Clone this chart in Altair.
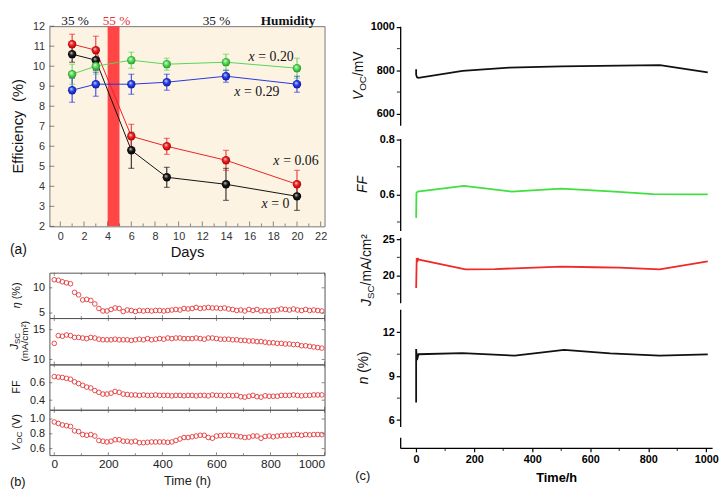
import altair as alt
import pandas as pd

# ---------------- panel (a): efficiency vs. days ----------------
days = [1, 3, 6, 9, 14, 20]
series_names = ["x = 0", "x = 0.06", "x = 0.20", "x = 0.29"]
eff_x0 = [10.6, 10.3, 5.8, 4.45, 4.1, 3.5]
eff_x006 = [11.1, 10.8, 6.5, 6.0, 5.3, 4.1]
eff_x020 = [9.6, 10.0, 10.3, 10.1, 10.2, 9.9]
eff_x029 = [8.8, 9.1, 9.1, 9.2, 9.5, 9.1]
err_x0 = [0.4, 0.5, 0.9, 0.5, 0.8, 0.7]
err_x006 = [0.5, 0.7, 0.6, 0.4, 0.5, 0.7]
err_x020 = [0.5, 0.4, 0.4, 0.3, 0.4, 0.5]
err_x029 = [0.6, 0.6, 0.5, 0.4, 0.3, 0.4]
humid_band_start = [4]
humid_band_end = [5]
humid_text = ["35 %", "55 %", "35 %", "Humidity"]
humid_day = [1.25, 4.75, 13.2, 19.25]
curve_value = ["= 0", "= 0.06", "= 0.20", "= 0.29"]
curve_day = [17.0, 18.0, 15.9, 14.7]
curve_eff = [3.13, 5.27, 10.44, 8.73]
day_ticks = [0, 2, 4, 6, 8, 10, 12, 14, 16, 18, 20, 22]
day_minor = [1, 3, 5, 7, 9, 11, 13, 15, 17, 19, 21]
eff_ticks = [2, 3, 4, 5, 6, 7, 8, 9, 10, 11, 12]

# ---------------- panel (b): parameters vs. time ----------------
time_b = [0, 15, 30, 45, 60, 75, 90, 105, 120, 135,
          150, 165, 180, 195, 210, 225, 240, 255, 270, 285,
          300, 315, 330, 345, 360, 375, 390, 405, 420, 435,
          450, 465, 480, 495, 510, 525, 540, 555, 570, 585,
          600, 615, 630, 645, 660, 675, 690, 705, 720, 735,
          750, 765, 780, 795, 810, 825, 840, 855, 870, 885,
          900, 915, 930, 945, 960, 975, 990]
eta_b = [11.6, 11.5, 11.2, 11.0, 10.8, 9.1, 8.6, 7.6, 7.7, 7.5,
         6.8, 5.9, 5.4, 5.4, 5.7, 6.0, 5.9, 5.3, 5.6, 5.5,
         5.3, 5.5, 5.4, 5.5, 5.4, 5.5, 5.5, 5.4, 5.5, 5.6,
         5.7, 5.6, 5.9, 5.8, 5.9, 6.1, 5.9, 6.0, 6.1, 6.0,
         6.0, 5.9, 6.0, 5.8, 5.7, 5.5, 5.6, 5.4, 5.7, 5.5,
         5.7, 5.4, 5.5, 5.4, 5.5, 5.6, 5.8, 5.7, 5.6, 5.8,
         5.6, 5.5, 5.7, 5.5, 5.6, 5.5, 5.4]
jsc_b = [12.7, 14.0, 13.9, 14.1, 14.0, 13.7, 13.7, 13.6, 13.5, 13.7,
         13.6, 13.4, 13.3, 13.3, 13.3, 13.4, 13.3, 13.3, 13.3, 13.2,
         13.3, 13.4, 13.3, 13.5, 13.3, 13.4, 13.5, 13.4, 13.6, 13.5,
         13.6, 13.6, 13.5, 13.5, 13.5, 13.6, 13.5, 13.4, 13.6, 13.6,
         13.5, 13.4, 13.4, 13.4, 13.3, 13.3, 13.2, 13.2, 13.1, 13.1,
         13.0, 13.0, 12.9, 12.8, 12.8, 12.7, 12.7, 12.6, 12.6, 12.5,
         12.5, 12.3, 12.3, 12.2, 12.1, 12.0, 11.9]
ff_b = [0.67, 0.665, 0.66, 0.65, 0.64, 0.61, 0.59, 0.57, 0.55, 0.54,
        0.51, 0.49, 0.47, 0.47, 0.48, 0.50, 0.49, 0.47, 0.465, 0.46,
        0.46, 0.455, 0.46, 0.455, 0.455, 0.46, 0.455, 0.455, 0.455, 0.45,
        0.455, 0.455, 0.45, 0.455, 0.455, 0.45, 0.455, 0.455, 0.45, 0.46,
        0.455, 0.455, 0.45, 0.455, 0.45, 0.455, 0.44, 0.435, 0.445, 0.455,
        0.44, 0.435, 0.45, 0.445, 0.445, 0.445, 0.455, 0.455, 0.455, 0.46,
        0.455, 0.45, 0.455, 0.455, 0.46, 0.46, 0.46]
voc_b = [0.96, 0.94, 0.92, 0.91, 0.90, 0.84, 0.83, 0.79, 0.78, 0.79,
         0.77, 0.71, 0.70, 0.69, 0.70, 0.72, 0.72, 0.70, 0.70, 0.69,
         0.70, 0.68, 0.68, 0.685, 0.69, 0.69, 0.69, 0.69, 0.685, 0.69,
         0.71, 0.73, 0.75, 0.75, 0.76, 0.77, 0.78, 0.78, 0.75, 0.74,
         0.77, 0.775, 0.78, 0.78, 0.775, 0.77, 0.76, 0.75, 0.755, 0.77,
         0.77, 0.74, 0.765, 0.77, 0.76, 0.77, 0.775, 0.78, 0.78, 0.785,
         0.79, 0.78, 0.79, 0.785, 0.79, 0.79, 0.79]
time_b_ticks = [0, 200, 400, 600, 800, 1000]
time_b_minor = [100, 300, 500, 700, 900]

# ---------------- panel (c): long-term stability ----------------
voc_c_t = [0, 0, 3, 8, 160, 320, 500, 700, 840, 1005]
voc_c_v = [805, 780, 768, 765, 797, 812, 818, 822, 824, 791]
ff_c_t = [0, 1, 5, 165, 330, 500, 670, 816, 1005]
ff_c_v = [0.515, 0.605, 0.61, 0.631, 0.61, 0.621, 0.611, 0.601, 0.60]
jsc_c_t = [0, 2, 4, 7, 10, 170, 272, 500, 612, 700, 839, 1005]
jsc_c_v = [18.3, 22.4, 21.9, 22.3, 22.2, 20.85, 20.9, 21.25, 21.15, 21.1, 20.85, 21.95]
eta_c_t = [0, 0, 3, 8, 159, 340, 510, 669, 839, 1005]
eta_c_v = [7.2, 10.85, 10.1, 10.5, 10.58, 10.4, 10.8, 10.56, 10.4, 10.49]
voc_c_ticks = [600, 800, 1000]
voc_c_minor = [700, 900]
ff_c_ticks = [0.6, 0.8]
ff_c_minor = [0.5, 0.7]
jsc_c_ticks = [20, 25]
jsc_c_minor = [17.5, 22.5]
eta_c_ticks = [6, 9, 12]
eta_c_minor = [7.5, 10.5]
time_c_ticks = [0, 200, 400, 600, 800, 1000]
time_c_minor = [100, 300, 500, 700, 900]

SANS = "Liberation Sans"
SERIF = "Liberation Serif"
ONE = pd.DataFrame({"k": [0]})

AW = {'V': .667, 'O': .778, 'C': .722, 'S': .667, 'J': .5, 'F': .611, '/': .278,
      'm': .833, 'A': .667, 'c': .5, '\u00b2': .333, '(': .333, ')': .333, '%': .889,
      ' ': .278, 'n': .556, '\u03b7': .556, 'E': .667, 'f': .278, 'i': .222, 'e': .556,
      'y': .5}


def tw(s, size):
    return sum(AW.get(ch, 0.556) for ch in s) * size


def vlabel(segments, x, yc, color="#111"):
    """Rotated (reading upward) composite label made of styled segments."""
    total = sum(tw(s[0], s[1]) for s in segments)
    y = yc + total / 2
    out = []
    for text, size, style, shift in segments:
        if text.strip():
            out.append(alt.Chart(ONE).mark_text(
                text=text, font=SANS, fontSize=size, fontStyle=style, angle=270,
                align="left", baseline="alphabetic", color=color
            ).encode(x=alt.value(x + shift), y=alt.value(y)))
        y -= tw(text, size)
    return out


def inner_xticks(values, scale, axis, ypix, size, color):
    return alt.Chart(pd.DataFrame({"m": values})).mark_tick(
        orient="vertical", size=size, thickness=1, color=color).encode(
        x=alt.X("m:Q", scale=scale, axis=axis), y=alt.value(ypix))


def inner_yticks(values, scale, axis, xpix, size, color):
    return alt.Chart(pd.DataFrame({"m": values})).mark_tick(
        orient="horizontal", size=size, thickness=1, color=color).encode(
        y=alt.Y("m:Q", scale=scale, axis=axis), x=alt.value(xpix))


# ================= panel (a) =================
WA, HA = 279, 203
rows = []
for name, ys, es in zip(series_names, [eff_x0, eff_x006, eff_x020, eff_x029],
                        [err_x0, err_x006, err_x020, err_x029]):
    for d, v, e in zip(days, ys, es):
        rows.append({"s": name, "day": d, "eff": v, "lo": v - e, "hi": v + e})
dfa = pd.DataFrame(rows)

xa = alt.Scale(domain=[-0.92, 22.33], nice=False, zero=False)
ya = alt.Scale(domain=[2, 12], nice=False, zero=False)
ax_xa = alt.Axis(values=day_ticks, title="Days", labelFontSize=11, ticks=False,
                 labelOverlap=False, labelPadding=4, titleFontSize=15, titlePadding=4,
                 titleFontWeight="normal", titleColor="#111", labelColor="#333", domain=False)
ax_ya = alt.Axis(values=eff_ticks, title=None, labelFontSize=11, ticks=False, labelPadding=5,
                 labelOverlap=False, labelColor="#333", domain=False)
line_cols = ["#111111", "#E8232A", "#55D655", "#2636DC"]
err_cols = ["#444444", "#E84A4A", "#6ADA6A", "#4A5AE0"]
col_a = alt.Scale(domain=series_names, range=line_cols)
ecol_a = alt.Scale(domain=series_names, range=err_cols)


def XA(f):
    return alt.X(f, type="quantitative", scale=xa, axis=ax_xa)


def YA(f):
    return alt.Y(f, type="quantitative", scale=ya, axis=ax_ya)


band = alt.Chart(pd.DataFrame({"a": humid_band_start, "b": humid_band_end})).mark_rect(
    color="#FF4545").encode(x=XA("a"), x2="b:Q",
                            y=alt.YDatum(2, scale=ya, axis=ax_ya), y2=alt.Y2Datum(12))
lines_a = alt.Chart(dfa).mark_line(strokeWidth=1).encode(
    x=XA("day"), y=YA("eff"), color=alt.Color("s:N", scale=col_a, legend=None), detail="s:N")
err_a = alt.Chart(dfa).mark_rule(strokeWidth=1).encode(
    x=XA("day"), y=YA("lo"), y2="hi:Q", color=alt.Color("s:N", scale=ecol_a, legend=None))
cap_lo = alt.Chart(dfa).mark_tick(orient="horizontal", size=6, thickness=1).encode(
    x=XA("day"), y=YA("lo"), color=alt.Color("s:N", scale=ecol_a, legend=None))
cap_hi = alt.Chart(dfa).mark_tick(orient="horizontal", size=6, thickness=1).encode(
    x=XA("day"), y=YA("hi"), color=alt.Color("s:N", scale=ecol_a, legend=None))


def sphere(light, mid, dark):
    return {"gradient": "radial", "x1": 0.38, "y1": 0.32, "r1": 0.0,
            "x2": 0.5, "y2": 0.5, "r2": 0.55,
            "stops": [{"offset": 0, "color": light}, {"offset": 0.45, "color": mid},
                      {"offset": 1, "color": dark}]}


grads = [sphere("#d8d8d8", "#1a1a1a", "#000000"),
         sphere("#ffd8d8", "#ee2222", "#a00000"),
         sphere("#e8ffe8", "#5bdc5b", "#1f8f1f"),
         sphere("#dce2ff", "#2a44ee", "#0a1490")]
pts_a = [alt.Chart(dfa[dfa.s == n]).mark_circle(size=72, opacity=1, fill=g).encode(
    x=XA("day"), y=YA("eff")) for n, g in zip(series_names, grads)]

dfh = pd.DataFrame({"t": humid_text, "day": humid_day})
HUM_Y = -1.5
hum_black = alt.Chart(dfh.iloc[[0, 2]]).mark_text(
    font=SERIF, fontSize=13.5, baseline="alphabetic", color="#111").encode(
    x=XA("day"), y=alt.value(HUM_Y), text="t:N")
hum_red = alt.Chart(dfh.iloc[[1]]).mark_text(
    font=SERIF, fontSize=13.5, baseline="alphabetic", color="#E53333").encode(
    x=XA("day"), y=alt.value(HUM_Y), text="t:N")
hum_bold = alt.Chart(dfh.iloc[[3]]).mark_text(
    font=SERIF, fontSize=13.5, fontWeight="bold", baseline="alphabetic", color="#111").encode(
    x=XA("day"), y=alt.value(HUM_Y), text="t:N")

dfc = pd.DataFrame({"v": curve_value, "day": curve_day, "eff": curve_eff})
lab_x = alt.Chart(dfc).mark_text(font=SERIF, fontSize=14, fontStyle="italic", align="left",
                                 baseline="middle", color="#111").encode(
    x=XA("day"), y=YA("eff"), text=alt.value("x"))
lab_v = alt.Chart(dfc).mark_text(font=SERIF, fontSize=14, align="left", dx=10,
                                 baseline="middle", color="#111").encode(
    x=XA("day"), y=YA("eff"), text="v:N")

lab_a = alt.Chart(ONE).mark_text(text="(a)", font=SANS, fontSize=14, align="left",
                                 baseline="middle", color="#111").encode(
    x=alt.value(-40), y=alt.value(HA + 24))
title_a = vlabel([("Efficiency", 15, "normal", 0), ("  ", 15, "normal", 0),
                  ("(%)", 15, "normal", 0)], -27, HA / 2)

ticks_a = [inner_xticks(day_ticks, xa, ax_xa, HA - 2.5, 5, "#555"),
           inner_xticks(day_minor, xa, ax_xa, HA - 1.5, 3, "#555"),
           inner_yticks(eff_ticks, ya, ax_ya, 2.5, 5, "#555")]

panel_a = alt.layer(band, lines_a, err_a, cap_lo, cap_hi, *pts_a, hum_black, hum_red,
                    hum_bold, lab_x, lab_v, lab_a, *ticks_a, *title_a).properties(
    width=WA, height=HA, view=alt.ViewBackground(fill="#FDF3E3", stroke="#777"))

# ================= panel (b) =================
RED_B = "#E2393B"
xb = alt.Scale(domain=[-18, 1000], nice=False, zero=False)


def b_panel(vals, dom, ticks, fmt, h, last, titles):
    df = pd.DataFrame({"t": time_b, "v": vals})
    if last:
        xax = alt.Axis(values=time_b_ticks, format="d", title="Time (h)", labelFontSize=12,
                       ticks=False, labelPadding=4, titleFontSize=13, titlePadding=5,
                       labelOverlap=False, titleFontWeight="normal", titleColor="#222",
                       domain=False, labelColor="#222")
    else:
        xax = None
    ysc = alt.Scale(domain=dom, nice=False, zero=False)
    yax = alt.Axis(values=ticks, format=fmt, title=None, labelFontSize=11,
                   ticks=False, labelPadding=5, domain=False,
                   labelOverlap=False, labelColor="#222")
    pts = alt.Chart(df).mark_point(shape="circle", filled=False, size=22, strokeWidth=0.9,
                                   color=RED_B, opacity=1).encode(
        x=alt.X("t:Q", scale=xb, axis=xax), y=alt.Y("v:Q", scale=ysc, axis=yax))
    tk = [inner_xticks(time_b_ticks, xb, xax, h - 1.5, 3, "#555"),
          inner_xticks(time_b_ticks, xb, xax, 1.5, 3, "#555"),
          inner_xticks(time_b_minor, xb, xax, h - 1, 2, "#555"),
          inner_xticks(time_b_minor, xb, xax, 1, 2, "#555"),
          inner_yticks(ticks, ysc, yax, 1.5, 3, "#555"),
          inner_yticks(ticks, ysc, yax, WA - 1.5, 3, "#555")]
    return alt.layer(pts, *tk, *titles).properties(
        width=WA, height=h, view=alt.ViewBackground(stroke="#555", fill=None))


b1 = b_panel(eta_b, [4.0, 13.0], [5, 10], "d", 46, False,
             vlabel([("\u03b7", 11, "italic", 0), (" ", 11, "normal", 0),
                     ("(%)", 11, "normal", 0)], -30, 23))
b2 = b_panel(jsc_b, [9.17, 16.95], [10, 15], "d", 47, False,
             vlabel([("J", 11, "italic", 0), ("SC", 8, "normal", 2)], -32, 23.5)
             + vlabel([("(mA/cm\u00b2)", 10, "normal", 0)], -21.5, 23.5))
b3 = b_panel(ff_b, [0.29, 0.81], [0.4, 0.6], ".1f", 46, False,
             vlabel([("FF", 11, "normal", 0)], -30, 23))
lab_b = alt.Chart(ONE).mark_text(text="(b)", font=SANS, fontSize=13, align="left",
                                 baseline="middle", color="#111").encode(
    x=alt.value(-40), y=alt.value(46 + 27))
b4 = b_panel(voc_b, [0.512, 1.125], [0.6, 0.8, 1.0], ".1f", 46, True,
             vlabel([("V", 11, "italic", 0), ("OC", 8, "normal", 2), (" ", 11, "normal", 0),
                     ("(V)", 11, "normal", 0)], -30, 23) + [lab_b])

panel_b = alt.vconcat(b1, b2, b3, b4, spacing=0, bounds="flush")
left = alt.vconcat(panel_a, panel_b, spacing=47, bounds="flush")

# ================= panel (c) =================
WC = 316.3
xc = alt.Scale(domain=[-55, 1020], nice=False, zero=False)
TOPPAD = 14.7


def c_panel(ts, vs, dom, rng, h, ticks, fmt, minor, color, titles, extra=()):
    df = pd.DataFrame({"t": ts, "v": vs, "i": list(range(len(ts)))})
    ysc = alt.Scale(domain=dom, range=[rng, 0], nice=False, zero=False)
    yax = alt.Axis(values=ticks, format=fmt, title=None, labelFontSize=11,
                   labelFontWeight="bold", tickSize=4, labelPadding=2, domainColor="#000",
                   labelOverlap=False, tickColor="#000", labelColor="#000", domainWidth=1.3,
                   tickWidth=1.2)
    line = alt.Chart(df).mark_line(strokeWidth=1.8, color=color).encode(
        x=alt.X("t:Q", scale=xc, axis=None), y=alt.Y("v:Q", scale=ysc, axis=yax),
        order="i:Q")
    mticks = alt.Chart(pd.DataFrame({"m": minor})).mark_tick(
        orient="horizontal", size=3, thickness=1.2, color="#000").encode(
        y=alt.Y("m:Q", scale=ysc, axis=yax), x=alt.value(-1.8))
    return alt.layer(line, mticks, *titles, *extra).properties(width=WC, height=h)


top_marker = alt.Chart(ONE).mark_text(text=".", fontSize=4, baseline="top", opacity=0).encode(
    x=alt.value(0), y=alt.value(-TOPPAD))

c1 = c_panel(voc_c_t, voc_c_v, [547, 1003], 100.6, 114, voc_c_ticks, "d", voc_c_minor,
             "#111",
             vlabel([("V", 14, "italic", 0), ("OC", 10, "normal", 3),
                     ("/mV", 14, "normal", 0)], -38, 50.3), [top_marker])
c2 = c_panel(ff_c_t, ff_c_v, [0.469, 0.802], 93.3, 100, ff_c_ticks, ".1f", ff_c_minor,
             "#3FE03F", vlabel([("FF", 14, "italic", 0)], -34, 46.6))
c3 = c_panel(jsc_c_t, jsc_c_v, [16.27, 25.27], 66.6, 72.6, jsc_c_ticks, "d", jsc_c_minor,
             "#F02828",
             vlabel([("J", 14, "italic", 0), ("SC", 10, "normal", 3),
                     ("/mA/cm\u00b2", 14, "normal", 0)], -30, 33.3))
c4 = c_panel(eta_c_t, eta_c_v, [5.56, 13.58], 119, 130, eta_c_ticks, "d", eta_c_minor,
             "#111",
             vlabel([("n", 14, "italic", 0), (" ", 14, "normal", 0),
                     ("(%)", 14, "normal", 0)], -33, 59.5))

H_STUB = 10.7
ax_time_c = alt.Axis(values=time_c_ticks, format="d", title="Time/h", labelFontSize=11,
                     labelFontWeight="bold", tickSize=4, labelPadding=2,
                     labelOverlap=False, titleFontSize=13, titleFontWeight="bold",
                     titlePadding=7, domainColor="#000", tickColor="#000",
                     labelColor="#000", titleColor="#000", domainWidth=1.3, tickWidth=1.2)
stub_pt = alt.Chart(ONE).mark_point(opacity=0).encode(
    x=alt.X("k:Q", scale=xc, axis=ax_time_c),
    y=alt.Y("k:Q", scale=alt.Scale(domain=[0, 1]),
            axis=alt.Axis(ticks=False, labels=False, title=None, domainColor="#000",
                          domainWidth=1.3)))
stub_minor = alt.Chart(pd.DataFrame({"m": time_c_minor})).mark_tick(
    orient="vertical", size=3, thickness=1.2, color="#000").encode(
    x=alt.X("m:Q", scale=xc, axis=ax_time_c), y=alt.value(H_STUB + 1.5))
lab_c = alt.Chart(ONE).mark_text(text="(c)", font=SANS, fontSize=13, align="center",
                                 baseline="middle", color="#111").encode(
    x=alt.value(-38), y=alt.value(H_STUB + 29))
stub = alt.layer(stub_pt, stub_minor, lab_c).properties(width=WC, height=H_STUB)

right = alt.vconcat(c1, c2, c3, c4, stub, spacing=0, bounds="flush")

chart = alt.hconcat(left, right, spacing=24.7).properties(padding=0).configure_view(
    stroke=None).configure_axis(grid=False, labelFont=SANS, titleFont=SANS)

chart.save("out.html", embed_options={"renderer": "svg", "actions": False})
